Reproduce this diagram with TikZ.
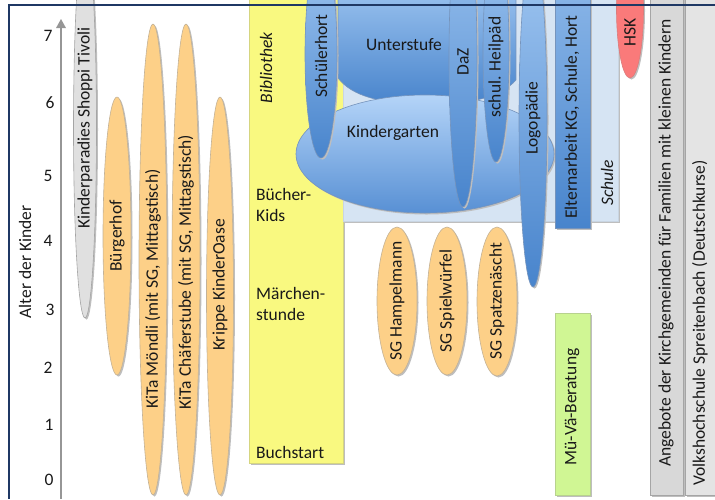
\documentclass[tikz,border=0pt]{standalone}
\usepackage{fontspec}
\setmainfont{Carlito}
\usepackage{tikz}
\usetikzlibrary{%
	arrows,
	shapes,
	shadows,% wg. drop shadow
	positioning,%
	calc
}
\definecolor{navy}{RGB}{31,56,100}
\definecolor{axisgray}{RGB}{150,150,150}
\definecolor{orangefill}{RGB}{253,208,136}
\definecolor{orangeline}{RGB}{196,178,150}
\definecolor{grayfill}{RGB}{224,224,224}
\definecolor{grayline}{RGB}{165,165,165}
\definecolor{yellowfill}{RGB}{249,249,128}
\definecolor{schulefill}{RGB}{214,228,243}
\definecolor{bluetop}{RGB}{162,200,242}
\definecolor{bluebot}{RGB}{72,132,204}
\definecolor{kgtop}{RGB}{180,212,248}
\definecolor{kgbot}{RGB}{88,144,212}
\definecolor{blueline}{RGB}{118,148,188}
\definecolor{redfill}{RGB}{250,122,122}
\definecolor{greenfill}{RGB}{208,246,148}
\definecolor{boxgray}{RGB}{216,216,216}
\definecolor{boxlight}{RGB}{228,228,228}
\definecolor{shadowgray}{RGB}{190,190,190}

\tikzstyle{txt} = [font=\fontsize{17.5}{21}\selectfont, inner sep=0pt, text=black!90]
\tikzstyle{vtxt} = [txt, rotate=90]
\tikzstyle{itxt} = [vtxt, font=\fontsize{17.5}{21}\selectfont\itshape]
\tikzstyle{softshadow} = [drop shadow={shadow xshift=1.5pt, shadow yshift=-1.5pt, opacity=1, fill=shadowgray}]
\tikzstyle{oval} = [ellipse, inner sep=0pt, line width=0.6pt, softshadow]
\tikzstyle{orangeoval} = [oval, fill=orangefill, draw=orangeline]
\tikzstyle{grayoval} = [oval, fill=grayfill, draw=grayline]
\tikzstyle{blueoval} = [oval, top color=bluetop, bottom color=bluebot, draw=blueline]
\tikzstyle{redoval} = [oval, fill=redfill, draw=redfill!75!gray]
\tikzstyle{box} = [rectangle, inner sep=0pt, outer sep=0pt, line width=0.6pt, softshadow]

\begin{document}
\begin{tikzpicture}[x=1pt, y=-1pt]
		\useasboundingbox (0,0) rectangle (715,499);
		
		\begin{scope}
		\clip (0,0) rectangle (715,499);
		
		% First we draw the library and the school area
		\node[box, fill=yellowfill, draw=yellowfill!70!gray, minimum width=94, minimum height=468] (bibliothek) at (296,229) {};
		\node[box, fill=schulefill, draw=schulefill!85!gray, minimum width=275, minimum height=226] (schule) at (480.5,108) {};
		
		% Unterstufe behind the Kindergarten
		\path[top color=bluetop!85!bluebot, bottom color=bluebot, draw=blueline, line width=0.6pt]
		(338,-5) -- (338,78) .. controls (352,96) and (380,104) .. (428,104)
		.. controls (470,104) and (500,98) .. (516,80) -- (516,-5) -- cycle;
		\node[txt] (unterstufe) at (404,45) {Unterstufe};
		
		\node[blueoval, top color=kgtop, bottom color=kgbot, minimum width=258, minimum height=118] (kindergarten) at (425,154) {};
		\node[txt] (kindergarten-text) at (393,133) {Kindergarten};
		
		% Then the blue offers of the school
		\foreach \x/\w/\ya/\yb/\ty/\name/\txt in {
			321/32/-50/158/56/schuelerhort/{Schülerhort},
			463/28/-90/207/62/daz/{DaZ},
			496/26/-60/162/67/heilpaed/{schul. Heilpäd},
			533/28/-50/287/118/logopaedie/{Logopädie}
		}
		{
			\node[blueoval, minimum width=\w, minimum height=\yb-\ya] (\name) at (\x,{(\ya+\yb)/2}) {};
			\node[vtxt] (\name-text) at (\x,\ty) {\txt};
		}
		
		\node[box, top color=bluetop!70!bluebot, bottom color=bluebot, draw=blueline, minimum width=35, minimum height=233] (elternarbeit) at (572.5,111.5) {};
		\node[vtxt] (elternarbeit-text) at (572,117) {Elternarbeit KG, Schule, Hort};
		\node[itxt] (schule-text) at (607,183) {Schule};
		
		\node[redoval, minimum width=27, minimum height=138] (hsk) at (630,9) {};
		\node[vtxt] (hsk-text) at (630,32) {HSK};
		
		% Texts of the library
		\node[itxt] (bibliothek-text) at (266,68) {Bibliothek};
		\node[txt, align=left, anchor=west] (buecherkids) at (256,205) {Bücher-\\Kids};
		\node[txt, align=left, anchor=west] (maerchen) at (256,304) {Märchen-\\stunde};
		\node[txt, anchor=west] (buchstart) at (256,452) {Buchstart};
		
		% Gray columns at the right
		\node[box, fill=boxgray, draw=grayline, minimum width=33, minimum height=500] (angebote) at (666.5,245) {};
		\node[vtxt] (angebote-text) at (666,243) {Angebote der Kirchgemeinden für Familien mit kleinen Kindern};
		\node[box, fill=boxlight, draw=grayline, minimum width=34, minimum height=500] (vhs) at (702,245) {};
		\node[vtxt] (vhs-text) at (700,323) {Volkshochschule Spreitenbach (Deutschkurse)};
		
		\node[box, fill=greenfill, draw=greenfill!70!gray, minimum width=35, minimum height=182] (muevae) at (572.5,404) {};
		\node[vtxt] (muevae-text) at (572,407) {Mü-Vä-Beratung};
		
		% Orange playgroups and day care
		\foreach \x/\w/\ya/\yb/\ty/\name/\txt in {
			117/28/97/375/236/buergerhof/{Bürgerhof},
			153/28/24/495/289/moendli/{KiTa Möndli (mit SG, Mittagstisch)},
			186/28/24/495/272/chaefer/{KiTa Chäferstube (mit SG, Mittagstisch)},
			220/27/97/495/285/krippe/{Krippe KinderOase},
			397/40/227/375/301/hampelmann/{SG Hampelmann},
			447/40/227/375/301/spielwuerfel/{SG Spielwürfel},
			497/40/227/376/301/spatzen/{SG Spatzenäscht}
		}
		{
			\node[orangeoval, minimum width=\w, minimum height=\yb-\ya] (\name) at (\x,{(\ya+\yb)/2}) {};
			\node[vtxt] (\name-text) at (\x,\ty) {\txt};
		}
		
		\node[grayoval, minimum width=23, minimum height=380] (shoppi) at (85,128) {};
		\node[vtxt] (shoppi-text) at (85,128) {Kinderparadies Shoppi Tivoli};
		\end{scope}
		
		% Draw the age axis (shaft and head filled)
		\coordinate (axisbottom) at (61,499);
		\coordinate (axistop) at (61,19);
		\fill[axisgray] ($(axisbottom)+(-1.25,0)$) rectangle ($(axistop)+(1.25,8)$);
		\fill[axisgray] (axistop) -- ($(axistop)+(5,9)$) -- ($(axistop)+(-5,9)$) -- cycle;
		\foreach \pos/\name in {{(49,480)/0}, {(49,425)/1}, {(48,368)/2}, {(50,310)/3},
			{(48,241)/4}, {(48,176)/5}, {(50,103)/6}, {(48,36)/7}}
		\node[txt] (age\name) at \pos {\name};
		\node[vtxt] (alter) at (25,262) {Alter der Kinder};
		
		% Frame of the slide
		\fill[navy] (8.25,4.25) rectangle (9.75,499);
		\fill[navy] (8.25,4.25) rectangle (715,5.75);
		
\end{tikzpicture}
\end{document}
